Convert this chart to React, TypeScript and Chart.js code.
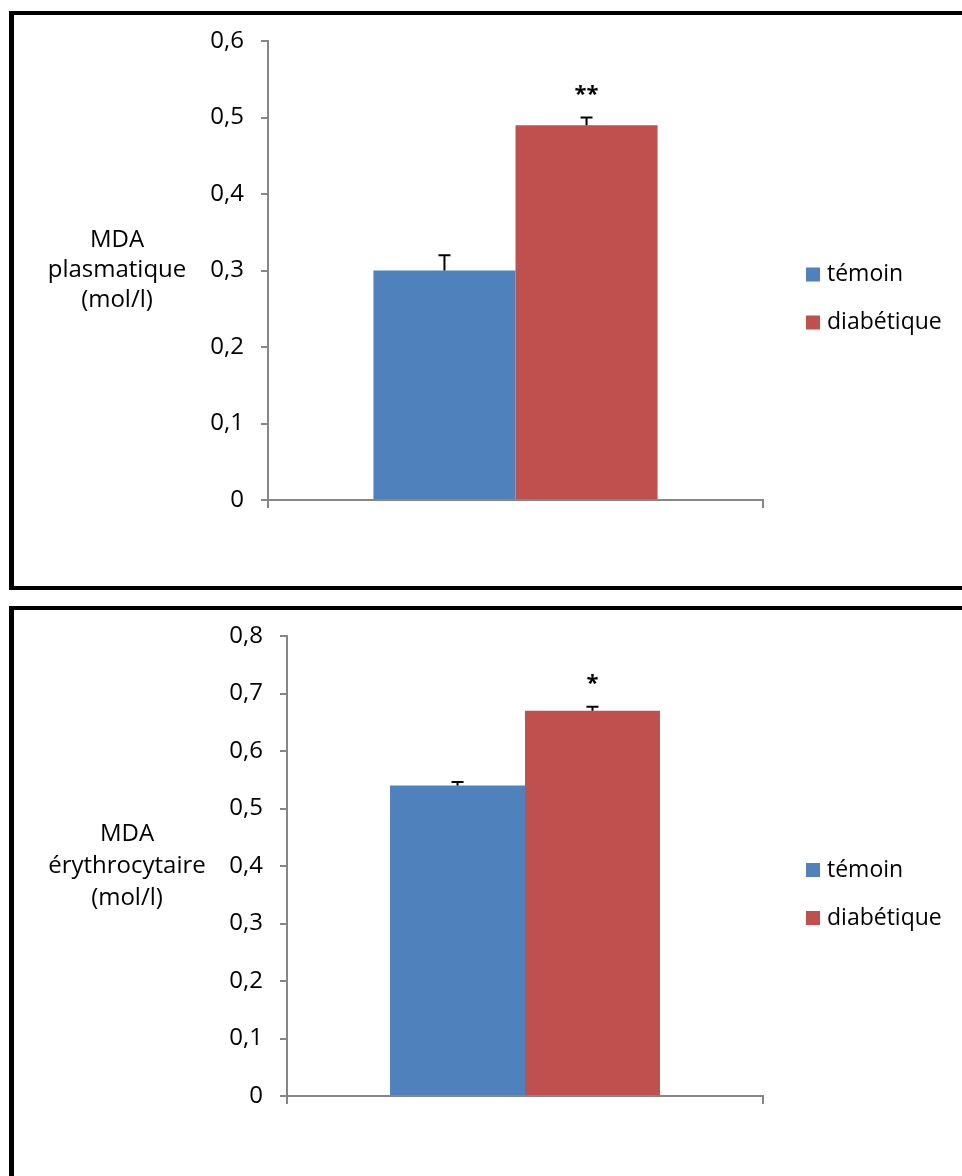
import React, { useEffect, useRef } from 'react';
import { Chart, registerables } from 'chart.js';

Chart.register(...registerables);

// Shared series metadata
const seriesNames = ['témoin', 'diabétique'];
const seriesColors = ['#4F81BD', '#C0504D'];
const categories = [''];

// Plasma MDA (mol/l)
const plasmaTemoin = [0.3];
const plasmaDiab = [0.49];
const plasmaTemoinErr = [0.02];
const plasmaDiabErr = [0.01];
const plasmaStars = ['', '**'];
const plasmaTitle = ['MDA', 'plasmatique', '(mol/l)'];
const plasmaMax = 0.6;

// Erythrocyte MDA (mol/l)
const eryTemoin = [0.54];
const eryDiab = [0.67];
const eryTemoinErr = [0.006];
const eryDiabErr = [0.007];
const eryStars = ['', '*'];
const eryTitle = ['MDA', 'érythrocytaire', '(mol/l)'];
const eryMax = 0.8;

const FONT = "'Open Sans', 'DejaVu Sans', sans-serif";
const AXIS_GREY = '#868686';

type PanelProps = {
  width: number;
  height: number;
  values: number[][];
  errors: number[][];
  stars: string[];
  title: string[];
  yMax: number;
  areaLeft: number;
  areaTop: number;
  areaRight: number;
  areaBottom: number;
  groupPct: number;
  titleX: number;
  titleGap: number;
};

const formatTick = (v: number) => (v === 0 ? '0' : v.toFixed(1).replace('.', ','));

function Panel(p: PanelProps) {
  const ref = useRef<HTMLCanvasElement | null>(null);

  useEffect(() => {
    if (!ref.current) return;

    // Error bars, significance stars, horizontal y title and legend
    const decorations = {
      id: 'decorations',
      afterDatasetsDraw(chart: any) {
        const ctx = chart.ctx;
        const yScale = chart.scales.y;
        ctx.save();
        chart.data.datasets.forEach((ds: any, di: number) => {
          const meta = chart.getDatasetMeta(di);
          meta.data.forEach((bar: any, i: number) => {
            const v = ds.data[i];
            const e = p.errors[di][i];
            const yTop = yScale.getPixelForValue(v + e);
            ctx.strokeStyle = '#000';
            ctx.lineWidth = 2;
            ctx.beginPath();
            ctx.moveTo(bar.x, bar.y);
            ctx.lineTo(bar.x, yTop);
            ctx.moveTo(bar.x - 6, yTop);
            ctx.lineTo(bar.x + 6, yTop);
            ctx.stroke();
            const star = p.stars[di];
            if (star) {
              ctx.fillStyle = '#000';
              ctx.font = `bold 22px ${FONT}`;
              ctx.textAlign = 'center';
              ctx.textBaseline = 'alphabetic';
              ctx.fillText(star, bar.x, yTop - 17);
            }
          });
        });
        ctx.restore();
      },
      afterDraw(chart: any) {
        const ctx = chart.ctx;
        const area = chart.chartArea;
        const midY = (area.top + area.bottom) / 2;
        ctx.save();
        ctx.fillStyle = '#000';
        ctx.textBaseline = 'middle';
        ctx.textAlign = 'center';
        ctx.font = `24px ${FONT}`;
        p.title.forEach((line, i) => {
          ctx.fillText(line, p.titleX, midY + (i - 1) * p.titleGap);
        });
        ctx.textAlign = 'left';
        ctx.font = `23px ${FONT}`;
        chart.data.datasets.forEach((ds: any, i: number) => {
          const cy = midY + 4 + i * 48;
          const x = area.right + 43;
          ctx.fillStyle = ds.backgroundColor;
          ctx.fillRect(x, cy - 7, 14, 14);
          ctx.fillStyle = '#000';
          ctx.fillText(ds.label, x + 21, cy);
        });
        ctx.restore();
      },
    };

    const chart = new Chart(ref.current, {
      type: 'bar',
      data: {
        labels: categories,
        datasets: seriesNames.map((name, i) => ({
          label: name,
          data: p.values[i],
          backgroundColor: seriesColors[i],
          borderWidth: 0,
          categoryPercentage: p.groupPct,
          barPercentage: 1,
        })),
      },
      options: {
        responsive: false,
        animation: false,
        devicePixelRatio: 1,
        layout: {
          padding: { left: 0, top: p.areaTop, right: p.width - p.areaRight, bottom: 0 },
        },
        plugins: {
          legend: { display: false },
          tooltip: { enabled: false },
        },
        scales: {
          x: {
            offset: true,
            ticks: { display: false },
            grid: {
              display: true,
              offset: true,
              drawOnChartArea: false,
              drawTicks: true,
              tickLength: 8,
              color: AXIS_GREY,
              lineWidth: 2,
            },
            border: { display: true, color: AXIS_GREY, width: 2 },
            afterFit: (scale: any) => {
              scale.height = p.height - p.areaBottom;
              scale.paddingLeft = 0;
              scale.paddingRight = 0;
            },
          },
          y: {
            min: 0,
            max: p.yMax,
            ticks: {
              stepSize: 0.1,
              padding: 17,
              color: '#000',
              font: { family: FONT, size: 24 },
              callback: (v: any) => formatTick(Number(v)),
            },
            grid: {
              display: true,
              drawOnChartArea: false,
              drawTicks: true,
              tickLength: 7,
              color: AXIS_GREY,
              lineWidth: 2,
            },
            border: { display: true, color: AXIS_GREY, width: 2 },
            afterFit: (scale: any) => {
              scale.width = p.areaLeft;
              scale.paddingTop = 0;
              scale.paddingBottom = 0;
            },
          },
        },
      },
      plugins: [decorations],
    });

    return () => chart.destroy();
  }, []);

  return (
    <canvas
      ref={ref}
      width={p.width}
      height={p.height}
      style={{ position: 'absolute', left: 0, top: 0, width: p.width, height: p.height }}
    />
  );
}

export default function App() {
  return (
    <div
      style={{
        position: 'fixed',
        left: 0,
        top: 0,
        width: 962,
        height: 1176,
        background: '#fff',
        overflow: 'hidden',
      }}
    >
      <div
        style={{
          position: 'absolute',
          left: 9,
          top: 11,
          width: 960,
          height: 579,
          boxSizing: 'border-box',
          borderLeft: '5px solid #000',
          borderTop: '4px solid #000',
          borderBottom: '4px solid #000',
        }}
      >
        <Panel
          width={948}
          height={571}
          values={[plasmaTemoin, plasmaDiab]}
          errors={[plasmaTemoinErr, plasmaDiabErr]}
          stars={plasmaStars}
          title={plasmaTitle}
          yMax={plasmaMax}
          areaLeft={254}
          areaTop={26}
          areaRight={749}
          areaBottom={485}
          groupPct={0.574}
          titleX={103}
          titleGap={30}
        />
      </div>
      <div
        style={{
          position: 'absolute',
          left: 9,
          top: 606,
          width: 960,
          height: 600,
          boxSizing: 'border-box',
          borderLeft: '5px solid #000',
          borderTop: '4px solid #000',
        }}
      >
        <Panel
          width={948}
          height={566}
          values={[eryTemoin, eryDiab]}
          errors={[eryTemoinErr, eryDiabErr]}
          stars={eryStars}
          title={eryTitle}
          yMax={eryMax}
          areaLeft={273}
          areaTop={26}
          areaRight={749}
          areaBottom={486}
          groupPct={0.567}
          titleX={113}
          titleGap={32}
        />
      </div>
    </div>
  );
}
